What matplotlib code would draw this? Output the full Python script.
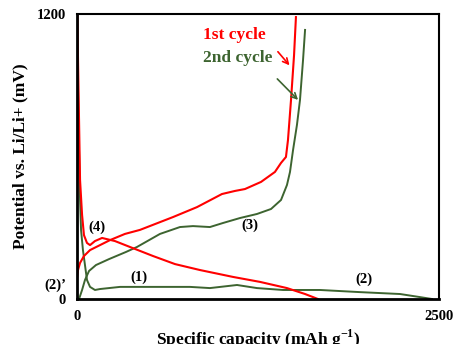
import matplotlib
matplotlib.use('Agg')
import matplotlib.pyplot as plt

plt.rcParams['font.family'] = 'Liberation Serif'
plt.rcParams['font.weight'] = 'bold'
plt.rcParams['mathtext.fontset'] = 'custom'
plt.rcParams['mathtext.rm'] = 'Liberation Serif:bold'
plt.rcParams['mathtext.bf'] = 'Liberation Serif:bold'

# 1st cycle, discharge
cap_d1 = [3, 7, 14, 21, 35, 48, 69, 90, 124, 173, 262, 366, 525, 677, 849, 1077, 1264, 1450, 1575, 1664]
pot_d1 = [1200, 1006, 754, 501, 354, 269, 236, 227, 244, 257, 244, 219, 181, 147, 122, 93, 72, 46, 21, 0]

# 1st cycle, charge
cap_c1 = [0, 7, 21, 48, 90, 159, 228, 331, 435, 663, 829, 1001, 1091, 1160, 1271, 1367, 1409, 1443, 1457, 1478, 1499, 1512]
pot_c1 = [88, 122, 152, 181, 206, 227, 248, 274, 291, 345, 387, 442, 455, 463, 493, 535, 573, 598, 669, 838, 1027, 1187]

# 2nd cycle, discharge
cap_d2 = [7, 14, 21, 28, 41, 55, 69, 90, 124, 159, 297, 642, 780, 918, 1105, 1243, 1423, 1678, 1954, 2231, 2369, 2452]
pot_d2 = [880, 627, 417, 290, 206, 143, 80, 51, 38, 42, 51, 51, 51, 46, 59, 46, 38, 38, 29, 21, 8, 0]

# 2nd cycle, charge
cap_c2 = [14, 35, 55, 83, 131, 221, 338, 414, 573, 711, 801, 918, 1008, 1126, 1243, 1340, 1409, 1450, 1471, 1492, 1519, 1540, 1561, 1575]
pot_c2 = [0, 38, 80, 118, 143, 168, 198, 219, 274, 303, 307, 303, 320, 341, 358, 379, 417, 480, 535, 627, 733, 838, 1006, 1133]

red = '#ff0000'
green = '#3d6430'

fig = plt.figure(figsize=(4.57, 3.44), dpi=100)
ax = fig.add_axes([0.1685, 0.1308, 0.7921, 0.8285])

ax.plot(cap_d2, pot_d2, color=green, lw=1.4)
ax.plot(cap_c2, pot_c2, color=green, lw=1.4)
ax.plot(cap_d1, pot_d1, color=red, lw=1.5)
ax.plot(cap_c1, pot_c1, color=red, lw=1.5)

ax.set_xlim(0, 2500)
ax.set_ylim(0, 1200)
ax.set_xticks([0, 2500])
ax.set_yticks([0, 1200])
ax.tick_params(length=0, labelsize=10.5, pad=8)
for lab in ax.get_xticklabels() + ax.get_yticklabels():
    lab.set_fontweight('bold')
for s in ['left', 'bottom']:
    ax.spines[s].set_linewidth(2)
for s in ['top', 'right']:
    ax.spines[s].set_linewidth(1.5)

ax.set_ylabel('Potential vs. Li/Li+ (mV)', fontsize=12.5, fontweight='bold', labelpad=6)
ax.set_xlabel(r'Specific capacity (mAh g$^{-1}$)', fontsize=12.5, fontweight='bold', labelpad=3)

ax.text(870, 1095, '1st cycle', color=red, fontsize=12.5, fontweight='bold')
ax.text(870, 1000, '2nd cycle', color=green, fontsize=12.5, fontweight='bold')
ax.annotate('', xy=(1480, 975), xytext=(1375, 1050),
            arrowprops=dict(arrowstyle='->', color=red, lw=1.2))
ax.annotate('', xy=(1540, 830), xytext=(1370, 935),
            arrowprops=dict(arrowstyle='->', color=green, lw=1.2))

ax.text(140, 303, '(4)', fontsize=10.5, fontweight='bold', ha='center', va='center')
ax.text(425, 93, '(1)', fontsize=10.5, fontweight='bold', ha='center', va='center')
ax.text(1195, 312, '(3)', fontsize=10.5, fontweight='bold', ha='center', va='center')
ax.text(1980, 84, '(2)', fontsize=10.5, fontweight='bold', ha='center', va='center')
ax.text(-150, 59, "(2)\u2019", fontsize=10.5, fontweight='bold', ha='center', va='center', clip_on=False)

fig.savefig('out.png', dpi=100)
